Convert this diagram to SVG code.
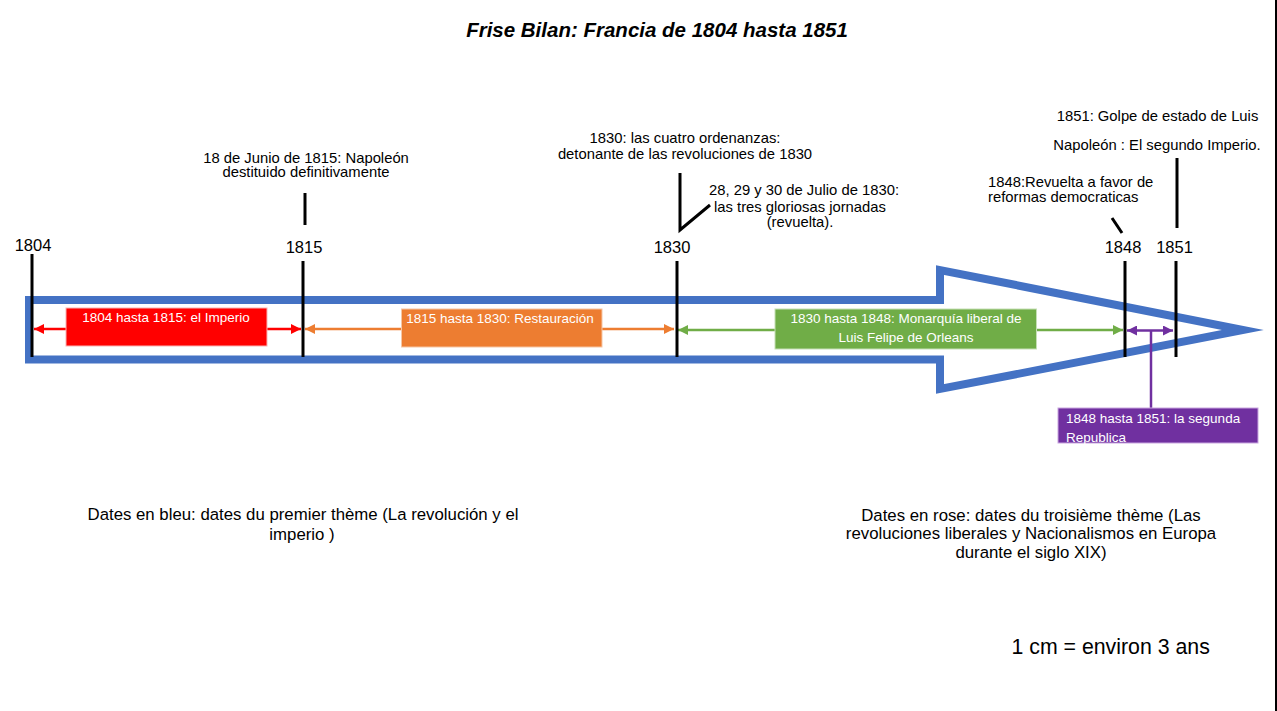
<svg xmlns="http://www.w3.org/2000/svg" width="1277" height="711" viewBox="0 0 1277 711">
<style>
.cal{font-family:"Liberation Sans",Arial,sans-serif;fill:#000}
.com{font-family:"Liberation Sans",Arial,sans-serif;font-size:14.8px;fill:#000}
.yr{font-family:"Liberation Sans",Arial,sans-serif;font-size:16.5px;fill:#000;text-anchor:middle}
.lbl{font-family:"Liberation Sans",Arial,sans-serif;font-size:13.5px;fill:#fff}
.tick{stroke:#000;stroke-width:3;fill:none}
.box{stroke-width:1}
</style>
<defs>
<marker id="mr" viewBox="0 0 10 10" refX="10" refY="5" markerWidth="4" markerHeight="4" orient="auto-start-reverse"><path d="M0,0 L10,5 L0,10 z" fill="#FF0000"/></marker>
<marker id="mo" viewBox="0 0 10 10" refX="10" refY="5" markerWidth="4" markerHeight="4" orient="auto-start-reverse"><path d="M0,0 L10,5 L0,10 z" fill="#ED7D31"/></marker>
<marker id="mg" viewBox="0 0 10 10" refX="10" refY="5" markerWidth="4" markerHeight="4" orient="auto-start-reverse"><path d="M0,0 L10,5 L0,10 z" fill="#70AD47"/></marker>
<marker id="mp" viewBox="0 0 10 10" refX="10" refY="5" markerWidth="4" markerHeight="4" orient="auto-start-reverse"><path d="M0,0 L10,5 L0,10 z" fill="#7030A0"/></marker>
</defs>
<rect width="1277" height="711" fill="#fff"/>
<rect x="1275" y="0" width="2" height="711" fill="#000"/>

<text class="cal" x="657" y="37" font-size="20.5" font-weight="bold" font-style="italic" text-anchor="middle">Frise Bilan: Francia de 1804 hasta 1851</text>

<g id="timeline-arrow">
<polygon points="29,300 940,300 940,270 1243,330 940,389 940,359.5 29,359.5" fill="none" stroke="#4472C4" stroke-width="8" stroke-miterlimit="10"/>
</g>

<g id="connectors">
<line x1="66" y1="329" x2="34" y2="329" stroke="#FF0000" stroke-width="2.5" marker-end="url(#mr)"/>
<line x1="267" y1="329" x2="301" y2="329" stroke="#FF0000" stroke-width="2.5" marker-end="url(#mr)"/>
<line x1="401" y1="329" x2="305" y2="329" stroke="#ED7D31" stroke-width="2.5" marker-end="url(#mo)"/>
<line x1="602" y1="329" x2="674" y2="329" stroke="#ED7D31" stroke-width="2.5" marker-end="url(#mo)"/>
<line x1="775" y1="330" x2="678" y2="330" stroke="#70AD47" stroke-width="2.5" marker-end="url(#mg)"/>
<line x1="1037" y1="330" x2="1123" y2="330" stroke="#70AD47" stroke-width="2.5" marker-end="url(#mg)"/>
<line x1="1127" y1="330.5" x2="1173" y2="330.5" stroke="#7030A0" stroke-width="2.5" marker-start="url(#mp)" marker-end="url(#mp)"/>
<line x1="1151" y1="330" x2="1151" y2="408" stroke="#7030A0" stroke-width="2.5"/>
<line class="tick" x1="305" y1="193" x2="305" y2="225"/>
<polyline class="tick" points="680,173 680,230 710,205"/>
<line class="tick" x1="1177" y1="158" x2="1177" y2="228"/>
<line class="tick" x1="1112" y1="218" x2="1122" y2="233"/>
</g>

<g id="y1804"><line class="tick" x1="32" y1="254" x2="32" y2="357"/><text class="yr" x="33" y="251">1804</text></g>
<g id="y1815"><line class="tick" x1="303" y1="261" x2="303" y2="357"/><text class="yr" x="304" y="252.5">1815</text></g>
<g id="y1830"><line class="tick" x1="677" y1="261" x2="677" y2="357"/><text class="yr" x="672" y="252.5">1830</text></g>
<g id="y1848"><line class="tick" x1="1125" y1="261" x2="1125" y2="357"/><text class="yr" x="1123" y="252.5">1848</text></g>
<g id="y1851"><line class="tick" x1="1176" y1="261" x2="1176" y2="357"/><text class="yr" x="1174.5" y="252.5">1851</text></g>

<g id="imperio">
<rect class="box" x="66" y="308" width="201" height="38" fill="#FF0000" stroke="#F8B4B4"/>
<text class="lbl" x="166" y="321.5" text-anchor="middle">1804 hasta 1815: el Imperio</text>
</g>
<g id="restauracion">
<rect class="box" x="401.5" y="309" width="200.5" height="38" fill="#ED7D31" stroke="#F6C6A4"/>
<text class="lbl" x="500" y="322.5" text-anchor="middle">1815 hasta 1830: Restauración</text>
</g>
<g id="monarquia">
<rect class="box" x="775" y="309" width="261.5" height="40" fill="#70AD47" stroke="#C5DFB5"/>
<text class="lbl" x="906" y="323" text-anchor="middle">1830 hasta 1848: Monarquía liberal de</text>
<text class="lbl" x="906" y="341.5" text-anchor="middle">Luis Felipe de Orleans</text>
</g>
<g id="republica">
<rect class="box" x="1058" y="408" width="200" height="35" fill="#7030A0" stroke="#C9A6E0"/>
<text class="lbl" x="1066" y="422.5">1848 hasta 1851: la segunda</text>
<text class="lbl" x="1066" y="441.5">Republica</text>
</g>

<g id="note1815">
<text class="com" x="306" y="162.5" text-anchor="middle">18 de Junio de 1815: Napoleón</text>
<text class="com" x="306" y="177" text-anchor="middle">destituido definitivamente</text>
</g>
<g id="note1830a">
<text class="com" x="685" y="142.5" text-anchor="middle">1830: las cuatro ordenanzas:</text>
<text class="com" x="685" y="159" text-anchor="middle">detonante de las revoluciones de 1830</text>
</g>
<g id="note1830b">
<text class="com" x="804" y="195" text-anchor="middle">28, 29 y 30 de Julio de 1830:</text>
<text class="com" x="800" y="211.5" text-anchor="middle">las tres gloriosas jornadas</text>
<text class="com" x="800" y="227" text-anchor="middle">(revuelta).</text>
</g>
<g id="note1851">
<text class="com" x="1157.5" y="121" text-anchor="middle">1851: Golpe de estado de Luis</text>
<text class="com" x="1157" y="150" text-anchor="middle">Napoleón : El segundo Imperio.</text>
</g>
<g id="note1848">
<text class="com" x="988" y="186.5">1848:Revuelta a favor de</text>
<text class="com" x="988" y="202">reformas democraticas</text>
</g>

<g id="legend-bleu">
<text class="cal" x="303" y="520" font-size="16.8" text-anchor="middle">Dates en bleu: dates du premier thème (La revolución y el</text>
<text class="cal" x="302" y="540" font-size="16.8" text-anchor="middle">imperio )</text>
</g>
<g id="legend-rose">
<text class="cal" x="1031" y="520.5" font-size="16.8" text-anchor="middle">Dates en rose: dates du troisième thème (Las</text>
<text class="cal" x="1031" y="539" font-size="16.8" text-anchor="middle">revoluciones liberales y Nacionalismos en Europa</text>
<text class="cal" x="1031" y="557.5" font-size="16.8" text-anchor="middle">durante el siglo XIX)</text>
</g>
<g id="scale">
<text class="cal" x="1011.5" y="654" font-size="21.3">1 cm = environ 3 ans</text>
</g>
</svg>
